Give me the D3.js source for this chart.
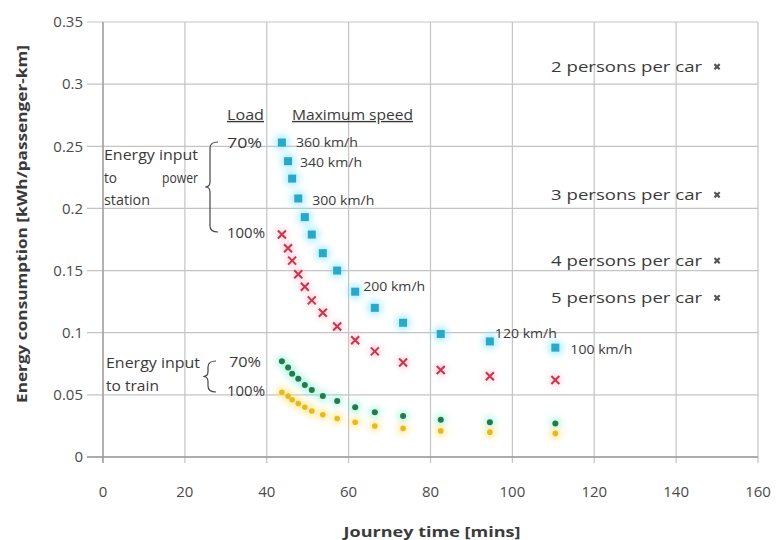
<!DOCTYPE html>
<html><head><meta charset="utf-8">
<script src="https://cdn.jsdelivr.net/npm/d3@7"></script>
<style>
body{margin:0;background:#fff;}
svg text{font-family:"Open Sans",sans-serif;fill:#3a3a3a;}
</style></head>
<body><svg id="c" width="778" height="540"></svg>
<script>
// ---- data ----
const journeyTimes = [43.7, 45.2, 46.2, 47.7, 49.3, 51.0, 53.7, 57.2, 61.6, 66.4, 73.3, 82.5, 94.5, 110.5];
const maxSpeeds = [360, 340, 320, 300, 280, 260, 240, 220, 200, 180, 160, 140, 120, 100];
const powerStation70 = [0.253, 0.238, 0.224, 0.208, 0.193, 0.179, 0.164, 0.150, 0.133, 0.120, 0.108, 0.099, 0.093, 0.088];
const powerStation100 = [0.179, 0.168, 0.158, 0.147, 0.137, 0.126, 0.116, 0.105, 0.094, 0.085, 0.076, 0.070, 0.065, 0.062];
const train70 = [0.077, 0.072, 0.067, 0.063, 0.058, 0.054, 0.049, 0.045, 0.040, 0.036, 0.033, 0.030, 0.028, 0.027];
const train100 = [0.052, 0.049, 0.046, 0.043, 0.040, 0.037, 0.034, 0.031, 0.028, 0.025, 0.023, 0.021, 0.020, 0.019];
const labelledSpeeds = [360, 340, 300, 200, 120, 100];
const carTime = 150;
const carValues = [0.314, 0.211, 0.158, 0.128];
const carLabels = ["2 persons per car", "3 persons per car", "4 persons per car", "5 persons per car"];
const xTicks = [0, 20, 40, 60, 80, 100, 120, 140, 160];
const yTicks = [0, 0.05, 0.1, 0.15, 0.2, 0.25, 0.3, 0.35];
const yTickLabels = ["0", "0.05", "0.1", "0.15", "0.2", "0.25", "0.3", "0.35"];

// ---- chart ----
const svg = d3.select("#c");
const x = d3.scaleLinear().domain([0, 160]).range([103, 758]);
const y = d3.scaleLinear().domain([0, 0.35]).range([457, 22]);

const defs = svg.append("defs");
defs.append("filter").attr("id","glow").attr("x","-50%").attr("y","-50%").attr("width","200%").attr("height","200%")
  .append("feGaussianBlur").attr("stdDeviation", 3);

// gridlines
svg.append("g").selectAll("line").data(yTicks).join("line")
  .attr("x1", 87).attr("x2", x(160)).attr("y1", d => y(d)).attr("y2", d => y(d))
  .attr("stroke", "#c4c4c4").attr("stroke-width", 1.2);
svg.append("g").selectAll("line").data(xTicks).join("line")
  .attr("x1", d => x(d)).attr("x2", d => x(d)).attr("y1", y(0.35)).attr("y2", y(0) + 6)
  .attr("stroke", "#c4c4c4").attr("stroke-width", 1.2);
// axis lines
svg.append("line").attr("x1", x(0)).attr("x2", x(0)).attr("y1", y(0.35)).attr("y2", y(0)+6).attr("stroke","#9a9a9a").attr("stroke-width",1.3);
svg.append("line").attr("x1", 87).attr("x2", x(160)).attr("y1", y(0)).attr("y2", y(0)).attr("stroke","#9a9a9a").attr("stroke-width",1.3);

// tick labels
svg.append("g").selectAll("text").data(yTicks).join("text")
  .attr("x", 83).attr("y", d => y(d)).attr("dy", "0.35em").attr("text-anchor", "end")
  .style("font-size", "15px").style("fill","#4a4a4a").text((d, i) => yTickLabels[i]);
svg.append("g").selectAll("text").data(xTicks).join("text")
  .attr("x", d => x(d)).attr("y", 492).attr("dy", "0.35em").attr("text-anchor", "middle")
  .style("font-size", "15px").style("fill","#4a4a4a").text(d => d);

// axis titles
svg.append("text").attr("x", 432).attr("y", 532).attr("dy","0.35em").attr("text-anchor","middle")
  .style("font-size","15px").style("font-weight","bold").attr("textLength",177).attr("lengthAdjust","spacingAndGlyphs")
  .text("Journey time [mins]");
svg.append("text").attr("transform","translate(22,224) rotate(-90)").attr("dy","0.35em").attr("text-anchor","middle")
  .style("font-size","15px").style("font-weight","bold").attr("textLength",358).attr("lengthAdjust","spacingAndGlyphs")
  .text("Energy consumption [kWh/passenger-km]");

// series
const idx = d3.range(journeyTimes.length);
const halo = svg.append("g").attr("filter","url(#glow)").attr("opacity",0.55);
function haloFor(vals, color, r){
  halo.append("g").selectAll("circle").data(idx).join("circle")
    .attr("cx", i => x(journeyTimes[i])).attr("cy", i => y(vals[i])).attr("r", r).attr("fill", color);
}
haloFor(powerStation70, "#7fe3ff", 8);
haloFor(powerStation100, "#ffb0c0", 6);
haloFor(train70, "#80f0d0", 6);
haloFor(train100, "#ffe060", 6);

const s1 = svg.append("g");
s1.selectAll("rect").data(idx).join("rect")
  .attr("x", i => x(journeyTimes[i]) - 4).attr("y", i => y(powerStation70[i]) - 4)
  .attr("width", 8).attr("height", 8).attr("fill", "#2aa8c8");
const s2 = svg.append("g");
s2.selectAll("path").data(idx).join("path")
  .attr("d", i => { const cx = x(journeyTimes[i]), cy = y(powerStation100[i]), r = 4;
    return `M${cx-r},${cy-r}L${cx+r},${cy+r}M${cx-r},${cy+r}L${cx+r},${cy-r}`; })
  .attr("stroke", "#c8344e").attr("stroke-width", 2);
svg.append("g").selectAll("circle").data(idx).join("circle")
  .attr("cx", i => x(journeyTimes[i])).attr("cy", i => y(train70[i])).attr("r", 3).attr("fill", "#237a4c");
svg.append("g").selectAll("circle").data(idx).join("circle")
  .attr("cx", i => x(journeyTimes[i])).attr("cy", i => y(train100[i])).attr("r", 2.8).attr("fill", "#e8b820");

// car points
svg.append("g").selectAll("path").data(carValues).join("path")
  .attr("d", d => { const cx = x(carTime), cy = y(d), r = 2.6;
    return `M${cx-r},${cy-r}L${cx+r},${cy+r}M${cx-r},${cy+r}L${cx+r},${cy-r}`; })
  .attr("stroke", "#555").attr("stroke-width", 2.2);
svg.append("g").selectAll("text").data(carValues).join("text")
  .attr("x", x(carTime) - 15).attr("y", d => y(d)).attr("dy","0.35em").attr("text-anchor","end")
  .style("font-size","15px").attr("textLength",151).attr("lengthAdjust","spacingAndGlyphs")
  .text((d, i) => carLabels[i]);

// speed labels
const speedOffsets = {360:[14,0],340:[12,1],300:[14,2],200:[8,-5],120:[5,-8],100:[15,2]};
svg.append("g").selectAll("text").data(labelledSpeeds).join("text")
  .attr("x", s => x(journeyTimes[maxSpeeds.indexOf(s)]) + speedOffsets[s][0])
  .attr("y", s => y(powerStation70[maxSpeeds.indexOf(s)]) + speedOffsets[s][1])
  .attr("dy","0.35em").style("font-size","13px").attr("textLength",62).attr("lengthAdjust","spacingAndGlyphs")
  .text(s => s + " km/h");

// annotations
const ann = svg.append("g").style("font-size","14px");
function note(t, xx, yy, w, anchor){
  const el = ann.append("text").attr("x",xx).attr("y",yy).attr("dy","0.35em").text(t);
  if (w) el.attr("textLength", w).attr("lengthAdjust","spacingAndGlyphs");
  if (anchor) el.attr("text-anchor", anchor);
  return el;
}
note("Load",227,115,37).style("text-decoration","underline");
note("Maximum speed",292,115,121).style("text-decoration","underline");
note("70%",227,143,35);
note("100%",227,233,38);
note("Energy input",104,155,94);
note("to",104,178,13);
note("power",198,178,36,"end");
note("station",104,200,46);
note("Energy input",106,363,94);
note("to train",106,386,53);
note("70%",229,362,32);
note("100%",227,391,38);

// braces
function brace(xm, y0, y1, w){
  const ym = (y0 + y1) / 2;
  return `M${xm+w},${y0} Q${xm},${y0} ${xm},${y0+6} L${xm},${ym-5} Q${xm},${ym} ${xm-w*0.6},${ym} Q${xm},${ym} ${xm},${ym+5} L${xm},${y1-6} Q${xm},${y1} ${xm+w},${y1}`;
}
svg.append("path").attr("d", brace(210, 142, 232, 8)).attr("fill","none").attr("stroke","#444").attr("stroke-width",1.2);
svg.append("path").attr("d", brace(208, 361, 392, 8)).attr("fill","none").attr("stroke","#444").attr("stroke-width",1.2);
</script></body></html>
